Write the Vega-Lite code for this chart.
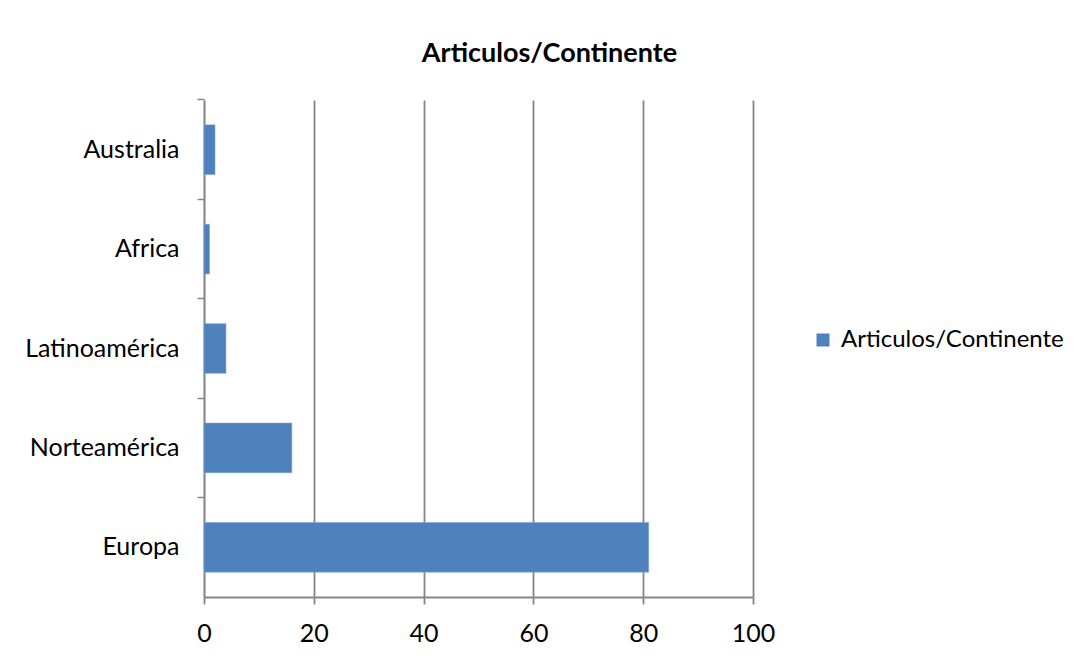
{
  "$schema": "https://vega.github.io/schema/vega-lite/v6.json",
  "width": 549,
  "height": 497,
  "autosize": "none",
  "padding": {"left": 204, "top": 100, "right": 328, "bottom": 60},
  "background": "white",
  "title": {
    "text": "Articulos/Continente",
    "font": "Lato",
    "fontSize": 27,
    "fontWeight": "bold",
    "color": "black",
    "anchor": "middle",
    "dx": 71,
    "offset": 30
  },
  "data": {
    "values": [
      {"continente": "Australia", "articulos": 2},
      {"continente": "Africa", "articulos": 1},
      {"continente": "Latinoamérica", "articulos": 4},
      {"continente": "Norteamérica", "articulos": 16},
      {"continente": "Europa", "articulos": 81}
    ]
  },
  "mark": {"type": "bar", "stroke": "#7fa3d3", "strokeWidth": 0.6},
  "encoding": {
    "y": {
      "field": "continente",
      "type": "nominal",
      "sort": ["Australia", "Africa", "Latinoamérica", "Norteamérica", "Europa"],
      "scale": {"paddingInner": 0.5, "paddingOuter": 0.25},
      "title": null,
      "axis": {
        "bandPosition": -0.5,
        "domainColor": "#868686",
        "domainWidth": 1.5,
        "tickColor": "#868686",
        "tickWidth": 1.5,
        "tickSize": 7,
        "labelFont": "Lato",
        "labelFontSize": 25,
        "labelColor": "black",
        "labelPadding": 18,
        "labelLimit": 300,
        "grid": false
      }
    },
    "x": {
      "field": "articulos",
      "type": "quantitative",
      "scale": {"domain": [0, 100], "nice": false},
      "title": null,
      "axis": {
        "values": [0, 20, 40, 60, 80, 100],
        "grid": true,
        "gridColor": "#868686",
        "gridWidth": 1.8,
        "domainColor": "#868686",
        "domainWidth": 1.8,
        "tickColor": "#868686",
        "tickWidth": 1.8,
        "tickSize": 7,
        "labelFont": "Lato",
        "labelFontSize": 25,
        "labelColor": "black",
        "labelPadding": 17,
        "labelFlush": false
      }
    },
    "color": {
      "datum": "Articulos/Continente",
      "scale": {"range": ["#4F81BD"]},
      "legend": {
        "title": null,
        "orient": "none",
        "legendX": 607,
        "legendY": 228,
        "symbolType": "square",
        "symbolSize": 169,
        "symbolStrokeWidth": 0,
        "labelFont": "Lato",
        "labelFontSize": 24,
        "labelColor": "black",
        "labelOffset": 6,
        "labelLimit": 400
      }
    }
  },
  "config": {"view": {"stroke": null}}
}
